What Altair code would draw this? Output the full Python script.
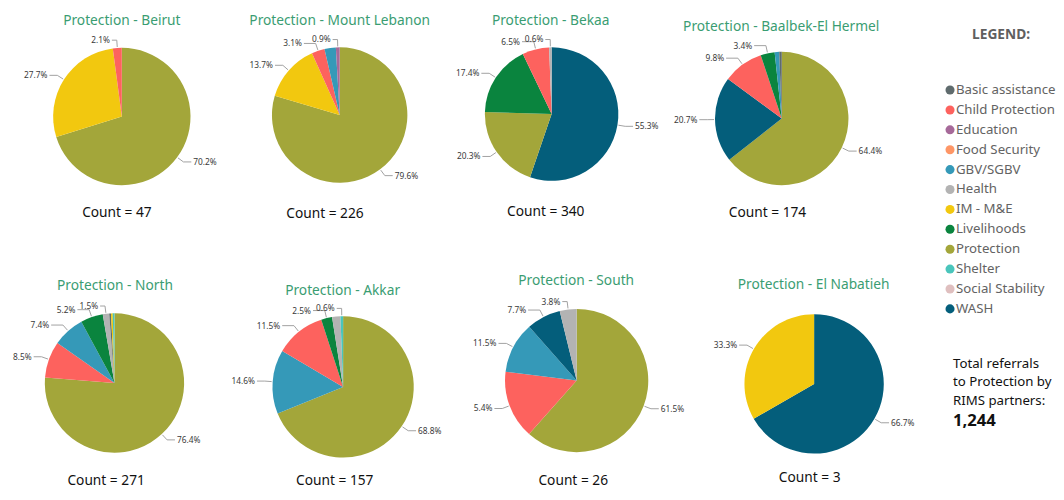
import math
import altair as alt
import pandas as pd

# ---------------- data ----------------
regions = ["Beirut", "Mount Lebanon", "Bekaa", "Baalbek-El Hermel",
           "North", "Akkar", "South", "El Nabatieh"]
counts = [47, 226, 340, 174, 271, 157, 26, 3]

sectors = ["Basic assistance", "Child Protection", "Education", "Food Security",
           "GBV/SGBV", "Health", "IM - M&E", "Livelihoods", "Protection",
           "Shelter", "Social Stability", "WASH"]
sector_colors = ["#5f6b6d", "#fd625e", "#a66999", "#fe9666", "#3599b8", "#b3b3b3",
                 "#f2c80f", "#0a843e", "#a3a63a", "#4ac5bb", "#dfbfbf", "#045e7b"]

beirut_sectors = ["Protection", "IM - M&E", "Child Protection"]
beirut_values = [70.2, 27.7, 2.1]
beirut_labels = ["70.2%", "27.7%", "2.1%"]

mount_sectors = ["Protection", "IM - M&E", "Child Protection", "GBV/SGBV", "Education"]
mount_values = [79.6, 13.7, 3.1, 2.7, 0.9]
mount_labels = ["79.6%", "13.7%", "3.1%", "", "0.9%"]

bekaa_sectors = ["WASH", "Protection", "Livelihoods", "Child Protection", "Health"]
bekaa_values = [55.3, 20.3, 17.4, 6.5, 0.6]
bekaa_labels = ["55.3%", "20.3%", "17.4%", "6.5%", "0.6%"]

baalbek_sectors = ["Protection", "WASH", "Child Protection", "Livelihoods", "GBV/SGBV", "Basic assistance"]
baalbek_values = [64.4, 20.7, 9.8, 3.4, 1.1, 0.6]
baalbek_labels = ["64.4%", "20.7%", "9.8%", "3.4%", "", ""]

north_sectors = ["Protection", "Child Protection", "GBV/SGBV", "Livelihoods", "Health",
                 "Basic assistance", "IM - M&E", "Shelter"]
north_values = [76.4, 8.5, 7.4, 5.2, 1.5, 0.4, 0.4, 0.4]
north_labels = ["76.4%", "8.5%", "7.4%", "5.2%", "1.5%", "", "", ""]

akkar_sectors = ["Protection", "GBV/SGBV", "Child Protection", "Livelihoods", "Health", "Shelter"]
akkar_values = [68.8, 14.6, 11.5, 2.5, 1.9, 0.6]
akkar_labels = ["68.8%", "14.6%", "11.5%", "2.5%", "", "0.6%"]

south_sectors = ["Protection", "Child Protection", "GBV/SGBV", "WASH", "Health"]
south_values = [61.5, 15.4, 11.5, 7.7, 3.8]
south_labels = ["61.5%", "5.4%", "11.5%", "7.7%", "3.8%"]

nabatieh_sectors = ["WASH", "IM - M&E"]
nabatieh_values = [66.7, 33.3]
nabatieh_labels = ["66.7%", "33.3%"]

legend_title = "LEGEND:"
total_text = "Total referrals\nto Protection by\nRIMS partners:"
total_value = "1,244"

# ---------------- tables ----------------
region_slices = [
    (beirut_sectors, beirut_values, beirut_labels),
    (mount_sectors, mount_values, mount_labels),
    (bekaa_sectors, bekaa_values, bekaa_labels),
    (baalbek_sectors, baalbek_values, baalbek_labels),
    (north_sectors, north_values, north_labels),
    (akkar_sectors, akkar_values, akkar_labels),
    (south_sectors, south_values, south_labels),
    (nabatieh_sectors, nabatieh_values, nabatieh_labels),
]
rows = []
for reg, (secs, vals, labs) in zip(regions, region_slices):
    for k, (s, v, l) in enumerate(zip(secs, vals, labs)):
        rows.append({"region": reg, "sector": s, "value": v, "label": l, "idx": k})
slices_df = pd.DataFrame(rows)
info_df = pd.DataFrame({
    "region": regions,
    "title": ["Protection - " + r for r in regions],
    "count_label": ["Count = %d" % c for c in counts],
})

# ---------------- styling / layout ----------------
FONT = "Noto Sans"
TITLE_COLOR = "#3a9d72"
LINE_COLOR = "#a0a0a0"
color_scale = alt.Scale(domain=sectors, range=sector_colors)
theta_scale = alt.Scale(domain=[0, 1], range=[0, 2 * math.pi])
PW = 226
RH = [264, 220]

# per panel: cx, cy, R, title x, title y, count x, count y
layout = [
    (116, 106, 70, 116, 9, 111, 204),
    (112, 104.5, 69, 112, 9, 97, 205),
    (102, 103.5, 68, 101, 9, 96, 203),
    (105.5, 108, 68, 105, 15, 91, 204),
    (108.5, 113.5, 71, 109, 15, 100, 213),
    (115.5, 117.5, 72, 115, 20, 107, 213),
    (127.5, 111, 73, 127, 10, 124, 213),
    (131.5, 114.5, 71, 131, 14, 127, 210),
]


def panel(i):
    reg = regions[i]
    cx, cy, R, tx, ty, kx, ky = layout[i]
    H = RH[i // 4]
    xs = alt.Scale(domain=[0, PW], range=[0, PW])
    ys = alt.Scale(domain=[0, H], range=[0, H])
    base = (alt.Chart(slices_df)
            .transform_filter(alt.datum.region == reg)
            .transform_joinaggregate(total="sum(value)")
            .transform_calculate(frac="datum.value / datum.total"))
    pie = base.mark_arc(radius=R).encode(
        theta=alt.Theta("frac:Q", stack=True, scale=theta_scale),
        color=alt.Color("sector:N", scale=color_scale, legend=None),
        order=alt.Order("idx:Q"),
        x=alt.value(cx), y=alt.value(cy),
    )
    geo = (base.transform_window(cum="sum(frac)", sort=[alt.SortField("idx")], frame=[None, 0])
           .transform_filter(alt.datum.label != "")
           .transform_calculate(
               mid="datum.cum - datum.frac / 2")
           .transform_calculate(
               ang="2 * PI * datum.mid",
               side="datum.mid < 0.5 ? 1 : -1",
               hlen="datum.mid < 0.5 ? 8 : (datum.mid >= 0.975 ? 5 : (datum.mid >= 0.88 ? 12 : 8))")
           .transform_calculate(
               x1="%f + %f * sin(datum.ang)" % (cx, R + 1),
               y1="%f - %f * cos(datum.ang)" % (cy, R + 1),
               x2="%f + %f * sin(datum.ang)" % (cx, R + 8),
               y2="%f - %f * cos(datum.ang)" % (cy, R + 8))
           .transform_calculate(
               x3="datum.x2 + datum.side * datum.hlen",
               lx="datum.x2 + datum.side * (datum.hlen + 2)"))
    radial = geo.mark_rule(color=LINE_COLOR, strokeWidth=1).encode(
        x=alt.X("x1:Q", scale=xs, axis=None), y=alt.Y("y1:Q", scale=ys, axis=None),
        x2="x2:Q", y2="y2:Q")
    horiz = geo.mark_rule(color=LINE_COLOR, strokeWidth=1).encode(
        x=alt.X("x2:Q", scale=xs, axis=None), y=alt.Y("y2:Q", scale=ys, axis=None),
        x2="x3:Q")
    layers = [pie, radial, horiz]
    for cond, align in [("datum.side > 0", "left"), ("datum.side < 0", "right")]:
        txt = geo.transform_filter(cond).mark_text(
            align=align, baseline="middle", color="#3a3a3a", fontSize=8.5, font=FONT).encode(
            x=alt.X("lx:Q", scale=xs, axis=None), y=alt.Y("y2:Q", scale=ys, axis=None),
            text="label:N")
        layers.append(txt)
    info = alt.Chart(info_df).transform_filter(alt.datum.region == reg)
    title = info.mark_text(fontSize=14, color=TITLE_COLOR, font=FONT, baseline="middle").encode(
        text="title:N", x=alt.value(tx), y=alt.value(ty))
    cnt = info.mark_text(fontSize=14, color="#111111", font=FONT, baseline="middle").encode(
        text="count_label:N", x=alt.value(kx), y=alt.value(ky))
    layers += [title, cnt]
    return alt.layer(*layers).properties(width=PW, height=H)


row1 = alt.hconcat(*[panel(i) for i in range(4)], spacing=0)
row2 = alt.hconcat(*[panel(i) for i in range(4, 8)], spacing=0)
grid = alt.vconcat(row1, row2, spacing=0)

leg_df = pd.DataFrame({"sector": sectors})
leg_y = alt.Y("sector:N", sort=sectors, axis=None,
              scale=alt.Scale(type="point", range=[79, 302], padding=0))
dots = alt.Chart(leg_df).mark_circle(size=85, opacity=1).encode(
    y=leg_y, x=alt.value(36),
    color=alt.Color("sector:N", scale=color_scale, legend=None))
leg_txt = alt.Chart(leg_df).mark_text(align="left", baseline="middle", fontSize=13.5,
                                      color="#636363", font=FONT).encode(
    y=leg_y, x=alt.value(42), text="sector:N")
leg_head = alt.Chart(pd.DataFrame({"t": [legend_title]})).mark_text(
    fontSize=14, fontWeight="bold", color="#5f5f5f", font=FONT, baseline="middle").encode(
    text="t:N", x=alt.value(88), y=alt.value(23))
tot = alt.Chart(pd.DataFrame({"t": [total_text]})).mark_text(
    fontSize=13.5, color="#111111", font=FONT, align="left", baseline="middle",
    lineBreak="\n", lineHeight=19).encode(
    text="t:N", x=alt.value(39), y=alt.value(358))
tot_v = alt.Chart(pd.DataFrame({"t": [total_value]})).mark_text(
    fontSize=17, fontWeight="bold", color="#111111", font=FONT, align="left",
    baseline="middle").encode(text="t:N", x=alt.value(39), y=alt.value(416))
legend_panel = alt.layer(dots, leg_txt, leg_head, tot, tot_v).properties(
    width=144, height=RH[0] + RH[1])

chart = (alt.hconcat(grid, legend_panel, spacing=0, padding=0)
         .configure_view(stroke=None)
         .configure_concat(spacing=0))

chart.save("out.html", embed_options={"renderer": "svg", "actions": False})
